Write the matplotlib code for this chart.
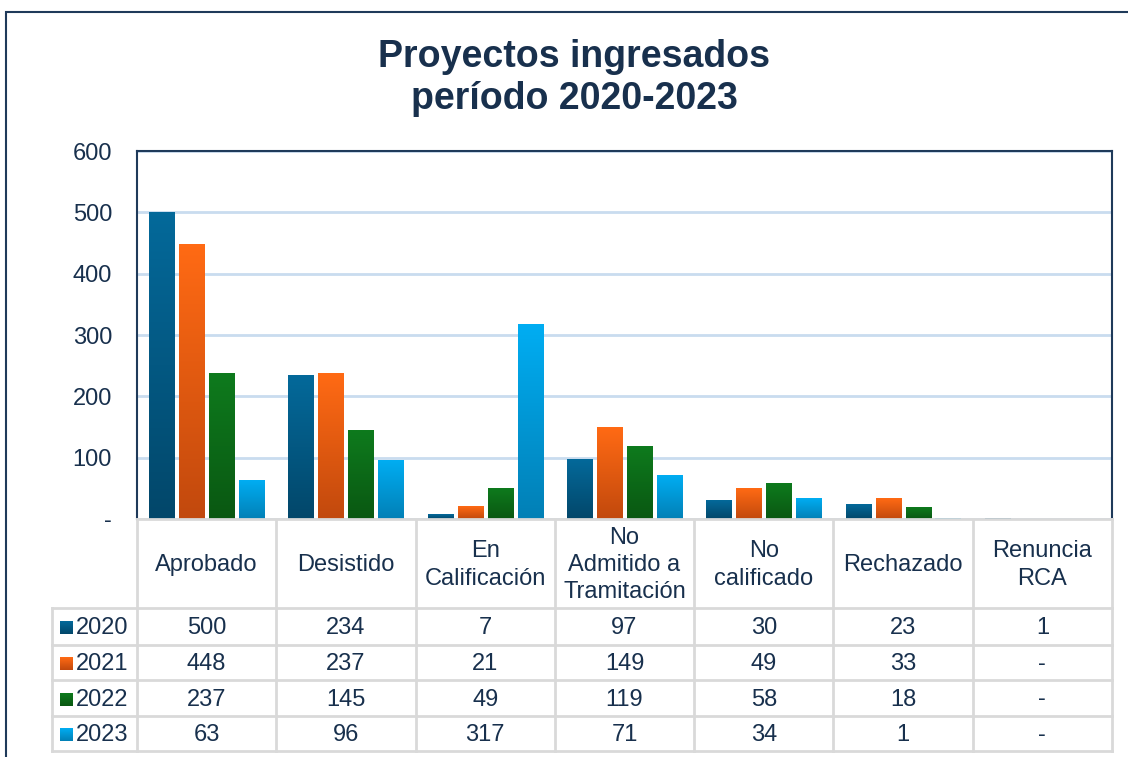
import numpy as np
import matplotlib
matplotlib.use('Agg')
import matplotlib.pyplot as plt
from matplotlib.colors import LinearSegmentedColormap
from matplotlib.patches import Rectangle

categorias = ['Aprobado', 'Desistido', 'En\nCalificación', 'No\nAdmitido a\nTramitación',
              'No\ncalificado', 'Rechazado', 'Renuncia\nRCA']
anios = ['2020', '2021', '2022', '2023']
v2020 = [500, 234, 7, 97, 30, 23, 1]
v2021 = [448, 237, 21, 149, 49, 33, 0]
v2022 = [237, 145, 49, 119, 58, 18, 0]
v2023 = [63, 96, 317, 71, 34, 1, 0]
series = [v2020, v2021, v2022, v2023]

# gradiente arriba -> abajo
colores = [('#04699a', '#02476a'),
           ('#ff6a14', '#c2490d'),
           ('#0e7a1d', '#0a5812'),
           ('#00adf2', '#0280b6')]

texto = '#18304d'
grid_c = '#c9dcef'
tabla_c = '#d9d9d9'
plt.rcParams['font.family'] = ['Liberation Sans', 'DejaVu Sans']

W, H = 1128, 757
fig = plt.figure(figsize=(W / 100, H / 100), dpi=100)

# marco exterior
fig.patches.append(Rectangle((6 / W, -0.1), 1.2, 1 - 12 / H + 0.1, transform=fig.transFigure,
                             fill=False, edgecolor='#1f3a5a', linewidth=1.5))

fig.text(574 / W, 1 - 78 / H, 'Proyectos ingresados\nperíodo 2020-2023', ha='center', va='center',
         fontsize=27, fontweight='bold', color=texto, linespacing=1.2)

ax = fig.add_axes([137 / W, 1 - 519 / H, 975 / W, 368 / H])
n = len(categorias)
ancho = 0.18
paso = 0.215
for k, vals in enumerate(series):
    cmap = LinearSegmentedColormap.from_list('g%d' % k, [colores[k][1], colores[k][0]])
    grad = np.linspace(1, 0, 64).reshape(-1, 1)
    for i, v in enumerate(vals):
        if v <= 0:
            continue
        x0 = i + 0.5 + (k - 1.5) * paso - ancho / 2
        ax.imshow(grad, cmap=cmap, extent=(x0, x0 + ancho, 0, v), aspect='auto',
                  interpolation='bilinear', zorder=3)

ax.set_xlim(0, n)
ax.set_ylim(0, 600)
ax.set_yticks(range(0, 601, 100))
ax.set_yticklabels(['-'] + [str(t) for t in range(100, 601, 100)])
ax.set_xticks([])
ax.tick_params(axis='y', length=0, pad=18, labelsize=17, labelcolor=texto)
ax.grid(axis='y', color=grid_c, linewidth=2, zorder=0)
ax.set_axisbelow(True)
for s in ['left', 'top', 'right']:
    ax.spines[s].set_color('#1f3a5a')
    ax.spines[s].set_linewidth(1.5)
ax.spines['bottom'].set_visible(False)

# tabla de datos
tab = fig.add_axes([52 / W, 1 - 751 / H, 1060 / W, 232 / H])
xl = -85 / 139.3
tab.set_xlim(xl, n)
tab.set_ylim(232, 0)
tab.axis('off')
filas = [0, 89, 126, 161, 197, 232]
lw = 2
tab.plot([0, n], [0, 0], color=tabla_c, lw=lw, clip_on=False)
for y in filas[1:]:
    tab.plot([xl, n], [y, y], color=tabla_c, lw=lw, clip_on=False)
for i in range(n + 1):
    tab.plot([i, i], [0, 232], color=tabla_c, lw=lw, clip_on=False)
tab.plot([xl, xl], [89, 232], color=tabla_c, lw=lw, clip_on=False)

for i, c in enumerate(categorias):
    tab.text(i + 0.5, 46, c, ha='center', va='center', fontsize=17, color=texto, linespacing=1.32)

for k, vals in enumerate(series):
    yc = (filas[k + 1] + filas[k + 2]) / 2 + 1.5
    cmap = LinearSegmentedColormap.from_list('l%d' % k, [colores[k][1], colores[k][0]])
    grad = np.linspace(1, 0, 32).reshape(-1, 1)
    sx = xl + 8 / 139.3
    tab.imshow(grad, cmap=cmap, extent=(sx, sx + 13 / 139.3, yc + 6.5, yc - 6.5), aspect='auto',
               interpolation='bilinear')
    tab.text(sx + 16 / 139.3, yc, anios[k], ha='left', va='center', fontsize=17, color=texto)
    for i, v in enumerate(vals):
        tab.text(i + 0.5, yc, str(v) if v else '-', ha='center', va='center', fontsize=17, color=texto)
tab.set_xlim(xl, n)
tab.set_ylim(232, 0)

fig.savefig('out.png', dpi=100)
